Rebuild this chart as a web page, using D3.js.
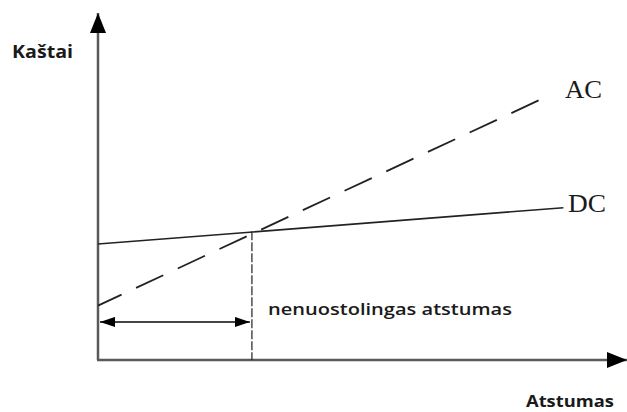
<!DOCTYPE html>
<html>
<head>
<meta charset="utf-8">
<script src="https://cdn.jsdelivr.net/npm/d3@7"></script>
<style>
  body { margin: 0; background: #fff; }
  svg { display: block; }
</style>
</head>
<body>
<div id="chart"></div>
<script>
// cost vs distance, two straight cost lines (abstract units 0..10)
const dcDistance = [0, 8.95]
const dcCost = [3.41, 4.48]
const acDistance = [0, 8.69]
const acCost = [1.6, 7.79]
const breakEvenDistance = 2.96
const breakEvenCost = 3.79
const arrowCost = 1.12
const seriesLabels = ['AC', 'DC']
const axisLabels = ['Kaštai', 'Atstumas']
const breakEvenLabel = 'nenuostolingas atstumas'

const width = 627, height = 412

const x = d3.scaleLinear().domain([0, 10]).range([98, 618])
const y = d3.scaleLinear().domain([0, 10]).range([360, 20])

const svg = d3.select('#chart').append('svg')
    .attr('width', width)
    .attr('height', height)

// markers
const defs = svg.append('defs')
defs.append('marker')
    .attr('id', 'bigArrow')
    .attr('viewBox', '0 0 20 16')
    .attr('refX', 20).attr('refY', 8)
    .attr('markerWidth', 20).attr('markerHeight', 16)
    .attr('markerUnits', 'userSpaceOnUse')
    .attr('orient', 'auto')
    .append('path').attr('d', 'M0,0 L20,8 L0,16 Z').attr('fill', '#000')
defs.append('marker')
    .attr('id', 'smallArrow')
    .attr('viewBox', '0 0 15 10')
    .attr('refX', 15).attr('refY', 5)
    .attr('markerWidth', 15).attr('markerHeight', 10)
    .attr('markerUnits', 'userSpaceOnUse')
    .attr('orient', 'auto-start-reverse')
    .append('path').attr('d', 'M0,0 L15,5 L0,10 Z').attr('fill', '#000')

// axes
svg.append('line')
    .attr('x1', x(0)).attr('y1', y(0))
    .attr('x2', x(0)).attr('y2', 13)
    .attr('stroke', '#5a5a5a').attr('stroke-width', 2.5)
    .attr('marker-end', 'url(#bigArrow)')
svg.append('line')
    .attr('x1', x(0) - 1).attr('y1', y(0))
    .attr('x2', 627).attr('y2', y(0))
    .attr('stroke', '#5a5a5a').attr('stroke-width', 2.5)
    .attr('marker-end', 'url(#bigArrow)')

const line = d3.line().x(d => x(d[0])).y(d => y(d[1]))

// DC solid
svg.append('path')
    .datum(d3.zip(dcDistance, dcCost))
    .attr('d', line)
    .attr('fill', 'none')
    .attr('stroke', '#222')
    .attr('stroke-width', 1.6)

// AC dashed
svg.append('path')
    .datum(d3.zip(acDistance, acCost))
    .attr('d', line)
    .attr('fill', 'none')
    .attr('stroke', '#222')
    .attr('stroke-width', 1.8)
    .attr('stroke-dasharray', '30,16')
    .attr('stroke-dashoffset', 4)

// break-even vertical
svg.append('line')
    .attr('x1', x(breakEvenDistance)).attr('y1', y(breakEvenCost))
    .attr('x2', x(breakEvenDistance)).attr('y2', y(0))
    .attr('stroke', '#222').attr('stroke-width', 1.2)
    .attr('stroke-dasharray', '9,2')

// double arrow
svg.append('line')
    .attr('x1', x(0) + 2).attr('y1', y(arrowCost))
    .attr('x2', x(breakEvenDistance) - 2).attr('y2', y(arrowCost))
    .attr('stroke', '#444').attr('stroke-width', 2)
    .attr('marker-start', 'url(#smallArrow)')
    .attr('marker-end', 'url(#smallArrow)')

// series labels
svg.append('text')
    .attr('x', 565).attr('y', 98)
    .attr('font-family', 'Liberation Serif, serif')
    .attr('font-size', 25)
    .attr('textLength', 37).attr('lengthAdjust', 'spacingAndGlyphs')
    .attr('fill', '#1a1a1a')
    .text(seriesLabels[0])
svg.append('text')
    .attr('x', 568).attr('y', 212)
    .attr('font-family', 'Liberation Serif, serif')
    .attr('font-size', 25)
    .attr('textLength', 38).attr('lengthAdjust', 'spacingAndGlyphs')
    .attr('fill', '#1a1a1a')
    .text(seriesLabels[1])

// axis titles
svg.append('text')
    .attr('x', 12).attr('y', 58)
    .attr('font-family', 'Open Sans, sans-serif')
    .attr('font-weight', 700)
    .attr('font-size', 17)
    .attr('textLength', 61).attr('lengthAdjust', 'spacingAndGlyphs')
    .attr('fill', '#1a1a1a')
    .text(axisLabels[0])
svg.append('text')
    .attr('x', 526).attr('y', 407)
    .attr('font-family', 'Open Sans, sans-serif')
    .attr('font-weight', 700)
    .attr('font-size', 16)
    .attr('textLength', 88).attr('lengthAdjust', 'spacingAndGlyphs')
    .attr('fill', '#1a1a1a')
    .text(axisLabels[1])

svg.append('text')
    .attr('x', 268).attr('y', 315)
    .attr('font-family', 'Open Sans, sans-serif')
    .attr('font-weight', 600)
    .attr('font-size', 17)
    .attr('textLength', 244).attr('lengthAdjust', 'spacingAndGlyphs')
    .attr('fill', '#1a1a1a')
    .text(breakEvenLabel)
</script>
</body>
</html>
